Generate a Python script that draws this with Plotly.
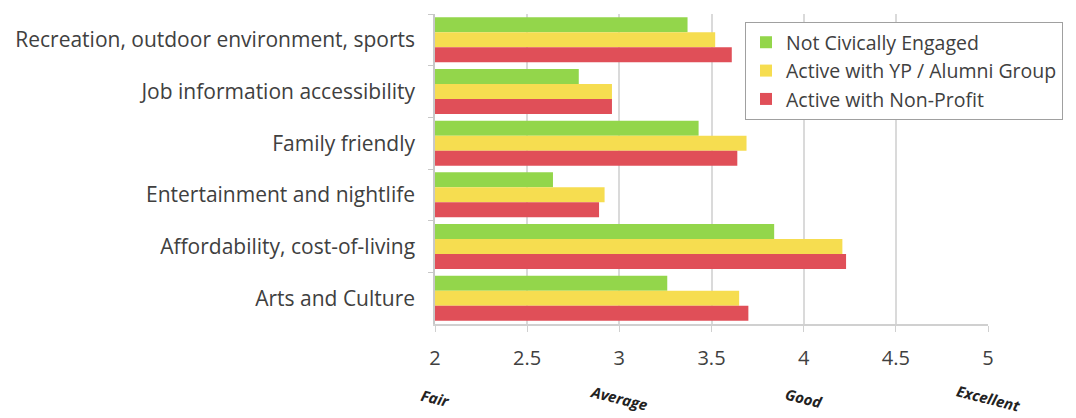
import plotly.graph_objects as go

categories = ["Recreation, outdoor environment, sports", "Job information accessibility",
              "Family friendly", "Entertainment and nightlife",
              "Affordability, cost-of-living", "Arts and Culture"]
not_engaged = [3.37, 2.78, 3.43, 2.64, 3.84, 3.26]
active_yp = [3.52, 2.96, 3.69, 2.92, 4.21, 3.65]
active_np = [3.61, 2.96, 3.64, 2.89, 4.23, 3.70]
series_names = ["Not Civically Engaged", "Active with YP / Alumni Group", "Active with Non-Profit"]
colors = ["#93D64B", "#F6DD50", "#E04F58"]
tick_vals = [2, 2.5, 3, 3.5, 4, 4.5, 5]
rating_vals = [2, 3, 4, 5]
rating_labels = ["Fair", "Average", "Good", "Excellent"]

FONT = "Open Sans, Lato, sans-serif"
TXT = "#404040"
fig = go.Figure()
for name, vals, c in zip(series_names, [not_engaged, active_yp, active_np], colors):
    fig.add_trace(go.Bar(y=categories, x=vals, name=name, orientation="h",
                         marker=dict(color=c, line=dict(width=0))))

for v, lab in zip(rating_vals, rating_labels):
    fig.add_annotation(x=v, y=-0.24, xref="x", yref="paper", text="<b><i>" + lab + "</i></b>",
                       showarrow=False, textangle=14, font=dict(family=FONT, size=15, color="#222222"),
                       xanchor="center", yanchor="middle")

fig.update_layout(
    width=1076, height=418,
    margin=dict(l=427, r=96, t=6, b=102),
    paper_bgcolor="white", plot_bgcolor="white",
    barmode="group", bargap=0.13, bargroupgap=0,
    font=dict(family=FONT, size=19, color=TXT),
    showlegend=True,
    legend=dict(x=0.5606, y=0.974, xanchor="left", yanchor="top",
                bordercolor="#A0A0A0", borderwidth=1, bgcolor="white",
                font=dict(size=19.5, color=TXT), traceorder="normal", itemwidth=30),
    xaxis=dict(range=[2, 5], tickvals=tick_vals, ticktext=[str(t) for t in tick_vals],
               showgrid=True, gridcolor="#DADADA", gridwidth=1.5, zeroline=False,
               showline=True, linecolor="#D0D0D0", linewidth=1.5,
               ticks="outside", ticklen=6, tickcolor="#D0D0D0", ticklabelstandoff=9,
               tickfont=dict(size=20, color=TXT)),
    yaxis=dict(autorange="reversed", showline=True, linecolor="#C8C8C8", linewidth=1.5,
               ticks="outside", tickson="boundaries", ticklen=5, tickcolor="#C8C8C8",
               ticklabelstandoff=14, tickfont=dict(size=21, color=TXT)),
)
fig.write_html("out.html")
